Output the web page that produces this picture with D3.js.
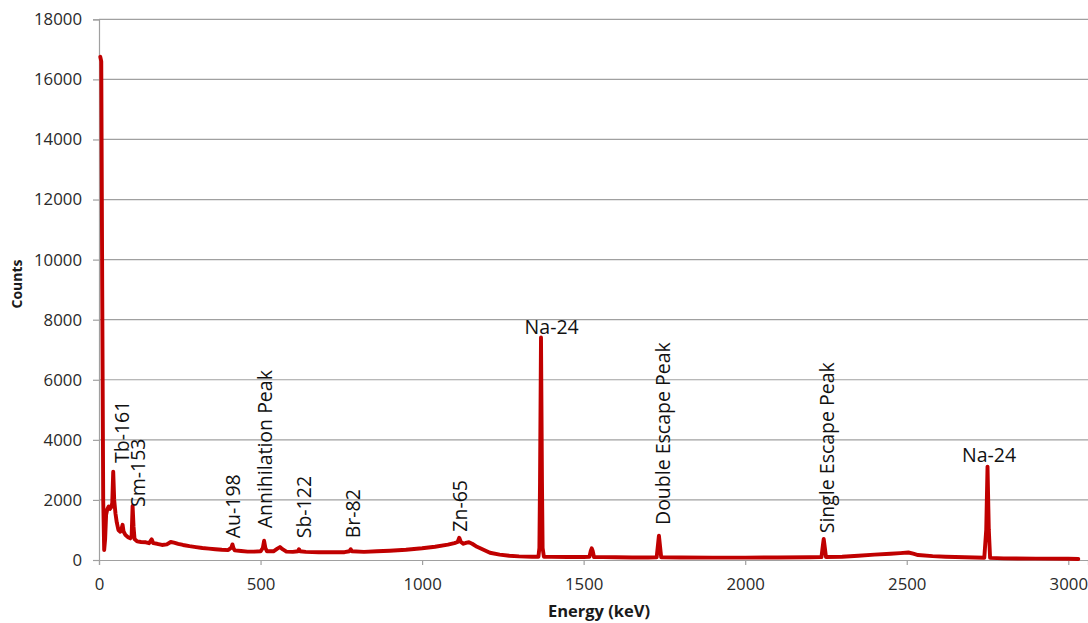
<!DOCTYPE html>
<html>
<head>
<meta charset="utf-8">
<script src="https://cdn.jsdelivr.net/npm/d3@7"></script>
<style>
  html, body { margin: 0; padding: 0; background: #fff; }
  svg { display: block; }
</style>
</head>
<body>
<svg id="chart" width="1088" height="623"></svg>
<script>
// ---- Data ----
const energy = [4,7,10,13,16,19,22,26,30,34,38,41,44,47,51,55,60,66,70,73,76,82,90,97,101,104,107,110,118,130,145,155,163,168,180,195,210,222,232,245,260,280,300,320,340,360,380,400,410,413,416,420,440,460,480,500,507,511,515,520,540,552,560,568,580,600,616,619,622,640,680,720,760,775,779,783,820,860,900,950,1000,1040,1080,1100,1110,1115,1120,1128,1138,1145,1155,1170,1190,1210,1240,1270,1300,1340,1360,1363,1365,1368,1371,1373,1377,1400,1450,1500,1518,1522,1525,1528,1532,1560,1600,1650,1700,1726,1730,1733,1736,1740,1800,1900,2000,2100,2200,2236,2240,2243,2246,2250,2300,2350,2400,2450,2480,2505,2520,2535,2580,2620,2680,2740,2746,2750,2754,2758,2800,2900,3000,3031];
const counts = [16750,16600,9000,2000,330,700,1500,1700,1780,1700,1760,1900,2940,2000,1550,1250,1000,940,1050,1170,950,830,760,720,800,1800,1100,700,620,600,590,560,690,560,540,500,520,600,580,540,500,460,430,400,380,360,340,330,420,520,400,320,300,280,280,290,400,640,400,290,290,380,430,360,280,270,290,360,290,270,260,260,260,290,360,290,270,290,310,340,390,440,510,560,600,740,600,540,580,590,540,440,340,240,180,140,120,110,110,400,2600,7410,2600,400,110,105,100,100,110,300,390,300,100,95,90,85,85,90,500,810,500,90,85,80,80,85,90,95,450,700,450,100,110,140,180,210,230,250,210,165,130,110,90,75,1000,3110,1000,70,55,45,40,35];

const xTicks = [0,500,1000,1500,2000,2500,3000];
const yTicks = [0,2000,4000,6000,8000,10000,12000,14000,16000,18000];

// Annotations: label text, energy of label, count at label foot
const labelText   = ["Tb-161","Sm-153","Au-198","Annihilation Peak","Sb-122","Br-82","Zn-65","Double Escape Peak","Single Escape Peak"];
const labelEnergy = [70,122,416,514,634,787,1117,1746,2252];
const labelCount  = [3229,1764,722,1055,722,722,942,1165,889];
const topText   = ["Na-24","Na-24"];
const topEnergy = [1401,2755];
const topCount  = [7513,3272];

// ---- Layout ----
const svg = d3.select("#chart");
const X0 = 99, X1 = 1088, Y0 = 560, Y1 = 19.3;
const x = d3.scaleLinear().domain([0, 3061]).range([X0, X1]);
const y = d3.scaleLinear().domain([0, 18000]).range([Y0, Y1]);
const gridColor = "#a0a0a0";
const tickFont = "'Open Sans', sans-serif";

// gridlines
svg.append("g").selectAll("line").data(yTicks.filter(d => d > 0)).join("line")
  .attr("x1", X0).attr("x2", X1)
  .attr("y1", d => y(d)).attr("y2", d => y(d))
  .attr("stroke", gridColor).attr("stroke-width", 1.2);

// y axis
const yAxis = svg.append("g").attr("transform", `translate(${X0},0)`)
  .call(d3.axisLeft(y).tickValues(yTicks).tickSize(6).tickPadding(11).tickFormat(d3.format("d")));
yAxis.select(".domain").attr("stroke", gridColor).attr("stroke-width", 1.2);
yAxis.selectAll(".tick line").attr("stroke", gridColor).attr("stroke-width", 1.2);
yAxis.selectAll(".tick text").attr("font-family", tickFont).attr("font-size", 16.8).attr("fill", "#2a2a2a");

// x axis
const xAxis = svg.append("g").attr("transform", `translate(0,${Y0})`)
  .call(d3.axisBottom(x).tickValues(xTicks).tickSize(5).tickPadding(13).tickFormat(d3.format("d")));
xAxis.select(".domain").attr("stroke", gridColor).attr("stroke-width", 1.2);
xAxis.selectAll(".tick line").attr("stroke", gridColor).attr("stroke-width", 1.2);
xAxis.selectAll(".tick text").attr("font-family", tickFont).attr("font-size", 16.8).attr("fill", "#2a2a2a");

// spectrum line
const pts = energy.map((e, i) => [e, counts[i]]);
svg.append("path").datum(pts)
  .attr("fill", "none").attr("stroke", "#c00000").attr("stroke-width", 3.9)
  .attr("stroke-linejoin", "round").attr("stroke-linecap", "round")
  .attr("d", d3.line().x(d => x(d[0])).y(d => y(d[1])));

// rotated labels
svg.append("g").selectAll("text").data(labelText).join("text")
  .attr("transform", (d, i) => `translate(${x(labelEnergy[i])},${y(labelCount[i])}) rotate(-90)`)
  .attr("dy", "0.36em")
  .attr("text-anchor", "start")
  .attr("font-family", tickFont).attr("font-size", 19.5).attr("fill", "#111")
  .text(d => d);

// horizontal labels
svg.append("g").selectAll("text").data(topText).join("text")
  .attr("x", (d, i) => x(topEnergy[i])).attr("y", (d, i) => y(topCount[i]))
  .attr("text-anchor", "middle")
  .attr("font-family", tickFont).attr("font-size", 19.5).attr("fill", "#111")
  .text(d => d);

// axis titles
svg.append("text").attr("x", 599).attr("y", 617)
  .attr("text-anchor", "middle").attr("font-family", tickFont)
  .attr("font-weight", "bold").attr("font-size", 16.5).attr("fill", "#1a1a1a")
  .text("Energy (keV)");
svg.append("text").attr("transform", "translate(22,284) rotate(-90)")
  .attr("text-anchor", "middle").attr("font-family", tickFont)
  .attr("font-weight", "bold").attr("font-size", 14).attr("fill", "#1a1a1a")
  .text("Counts");
</script>
</body>
</html>
